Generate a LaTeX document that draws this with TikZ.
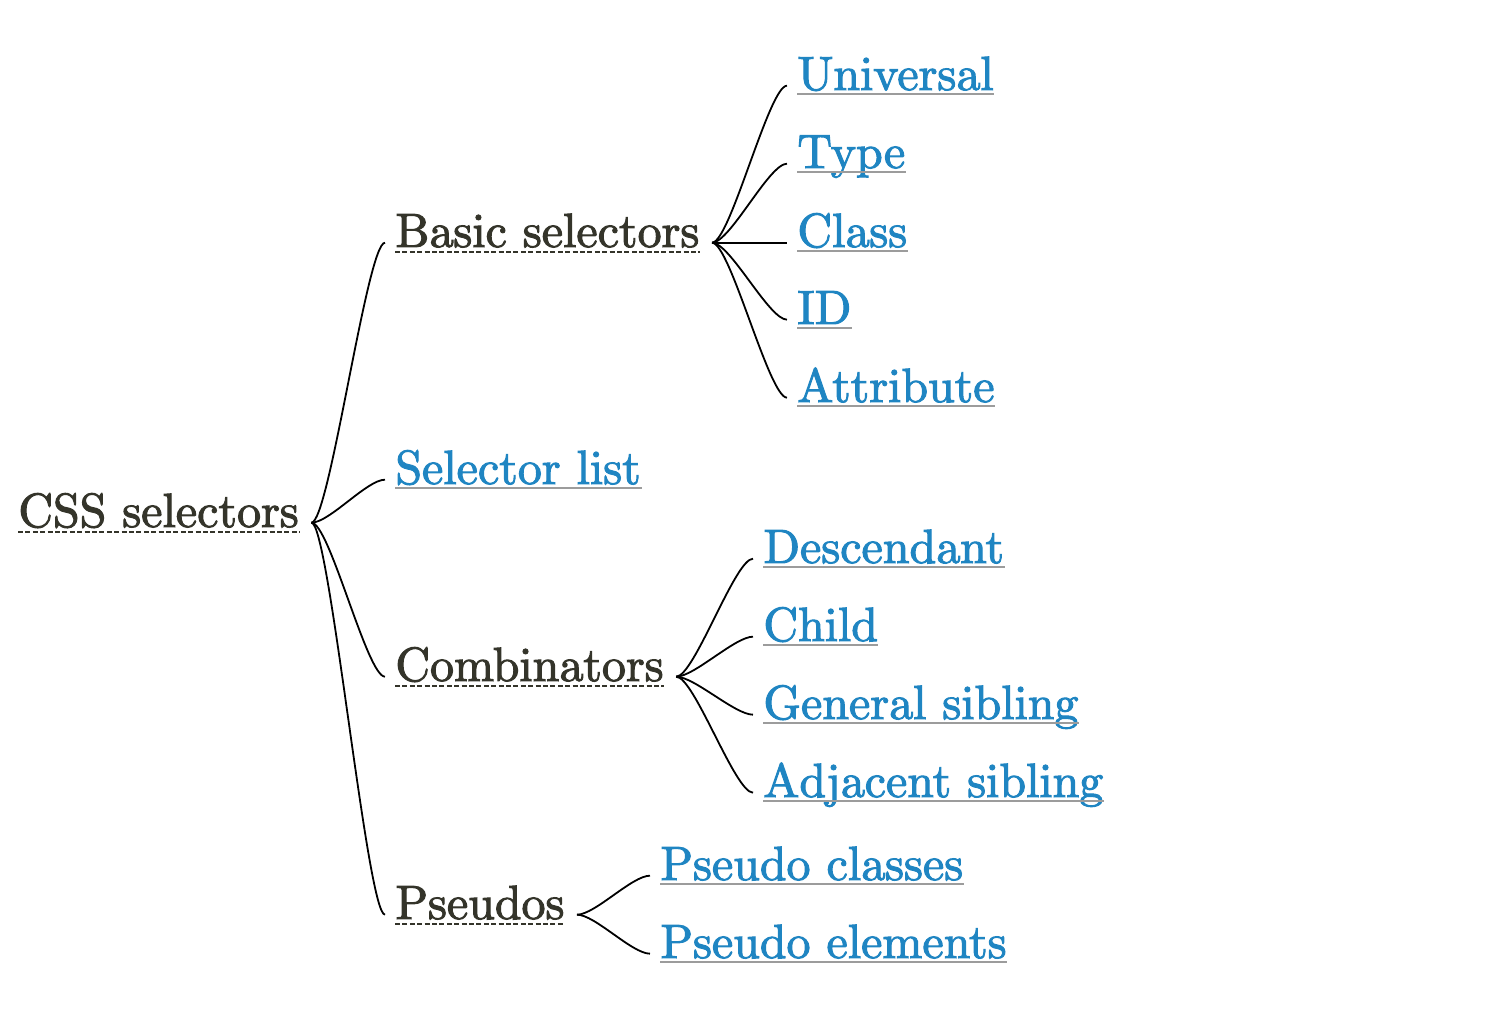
\documentclass[tikz,border=0pt]{standalone}
\usepackage{tikz}
\font\mapfont=cmr10 at 24pt
\newcommand\heavytext{\special{pdf:literal direct 2 Tr 0.5 w}}
\definecolor{topicgray}{HTML}{34342A}
\definecolor{linkblue}{HTML}{1F85C2}
\definecolor{rulegray}{HTML}{9C9C9C}
\tikzset{
topic/.style = {anchor=base west, inner sep=0pt, text=topicgray, font=\mapfont\heavytext},
leaf/.style = {anchor=base west, inner sep=0pt, text=linkblue, font=\mapfont\heavytext},
branch/.style = {draw=black, line width=0.9pt},
dashline/.style = {draw=topicgray, line width=0.7pt, dash pattern=on 2.5pt off 1.2pt},
linkline/.style = {draw=rulegray, line width=0.9pt}
}
\begin{document}
\begin{tikzpicture}[x=0.5pt, y=-0.5pt]
  \useasboundingbox (0,0) rectangle (1512,1036);
  % topics
  \node [topic] (root) at (18,527) {CSS selectors};
  \node [topic] (basic) at (395,247) {Basic selectors};
  \node [leaf] (sellist) at (395,484) {Selector list};
  \node [topic] (comb) at (395,681) {Combinators};
  \node [topic] (pseudo) at (395,919) {Pseudos};
  % basic selectors
  \node [leaf] (universal) at (797,90) {Universal};
  \node [leaf] (type) at (797,168) {Type};
  \node [leaf] (class) at (797,247) {Class};
  \node [leaf] (idsel) at (797,324) {ID};
  \node [leaf] (attr) at (797,402) {Attribute};
  % combinators
  \node [leaf] (desc) at (763,563) {Descendant};
  \node [leaf] (child) at (763,641) {Child};
  \node [leaf] (general) at (763,719) {General sibling};
  \node [leaf] (adjacent) at (763,797) {Adjacent sibling};
  % pseudos
  \node [leaf] (pclass) at (660,880) {Pseudo classes};
  \node [leaf] (pelem) at (660,958) {Pseudo elements};
  % underlines
  \foreach \n in {root,basic,comb,pseudo}
    \draw [dashline] ([yshift=-2.5pt]\n.base west) -- ([yshift=-2.5pt]\n.base east);
  \foreach \n in {sellist,universal,type,class,idsel,attr,desc,child,general,adjacent,pclass,pelem}
    \draw [linkline] ([yshift=-2pt]\n.base west) -- ([yshift=-2pt]\n.base east);
  % branches
  \foreach \p/\c in {root/basic,root/sellist,root/comb,root/pseudo,
      basic/universal,basic/type,basic/class,basic/idsel,basic/attr,
      comb/desc,comb/child,comb/general,comb/adjacent,
      pseudo/pclass,pseudo/pelem}
    \draw [branch] ([xshift=6pt]\p.mid east) .. controls +(9pt,0) and +(-9pt,0) .. ([xshift=-5pt]\c.mid west);
\end{tikzpicture}
\end{document}
